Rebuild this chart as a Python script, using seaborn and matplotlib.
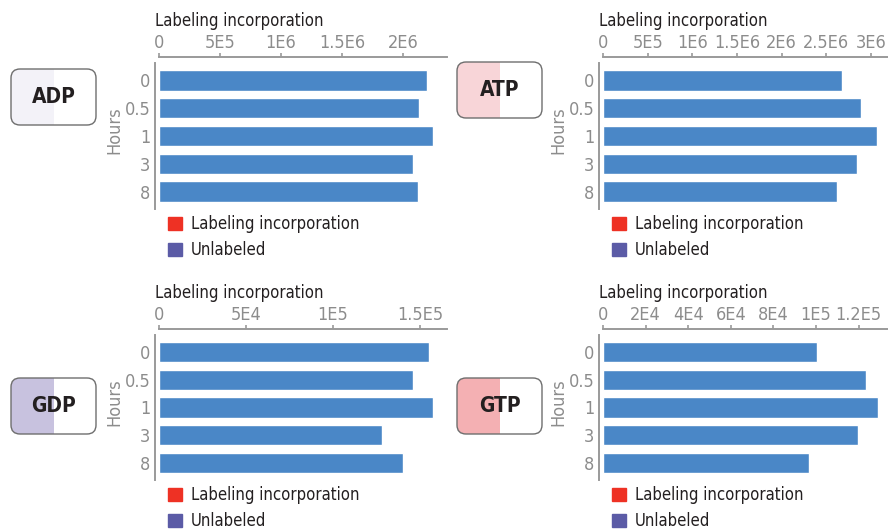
import matplotlib
matplotlib.use("Agg")
import matplotlib.pyplot as plt
import seaborn as sns
from matplotlib import font_manager
from matplotlib.patches import FancyBboxPatch, Rectangle, Patch

# data
hours = ['0', '0.5', '1', '3', '8']
adp = [2.20e6, 2.13e6, 2.245e6, 2.08e6, 2.12e6]
atp = [2.676e6, 2.89e6, 3.07e6, 2.845e6, 2.62e6]
gdp = [1.55e5, 1.46e5, 1.575e5, 1.282e5, 1.402e5]
gtp = [1.005e5, 1.235e5, 1.291e5, 1.197e5, 0.967e5]

adp_ticks = [0, 5e5, 1e6, 1.5e6, 2e6]
adp_labels = ['0', '5E5', '1E6', '1.5E6', '2E6']
atp_ticks = [0, 5e5, 1e6, 1.5e6, 2e6, 2.5e6, 3e6]
atp_labels = ['0', '5E5', '1E6', '1.5E6', '2E6', '2.5E6', '3E6']
gdp_ticks = [0, 5e4, 1e5, 1.5e5]
gdp_labels = ['0', '5E4', '1E5', '1.5E5']
gtp_ticks = [0, 2e4, 4e4, 6e4, 8e4, 1e5, 1.2e5]
gtp_labels = ['0', '2E4', '4E4', '6E4', '8E4', '1E5', '1.2E5']

legend_labels = ['Labeling incorporation', 'Unlabeled']

BAR = '#4a87c7'
RED = '#ee3124'
PURPLE = '#5b5ba6'
GREY = '#8c8c8c'
DARK = '#231f20'

W, H = 888, 529
PT = 72 / 100  # points per pixel at dpi 100

sns.set_theme(style='white')
names = {f.name for f in font_manager.fontManager.ttflist}
narrow = 'Liberation Sans Narrow' if 'Liberation Sans Narrow' in names else 'DejaVu Sans'
plt.rcParams['font.family'] = [narrow, 'DejaVu Sans']
plt.rcParams['font.stretch'] = 'condensed'

fig = plt.figure(figsize=(W / 100, H / 100), dpi=100)


def panel(left, top, width, height, values, xmax, ticks, labels):
    ax = fig.add_axes([left / W, 1 - (top + height) / H, width / W, height / H])
    sns.barplot(x=values, y=hours, orient='h', color=BAR, saturation=1,
                width=0.74, ax=ax)
    ax.set_xlim(0, xmax)
    ax.set_ylim(4.62, -0.62)
    ax.xaxis.tick_top()
    ax.set_xticks(ticks)
    ax.set_xticklabels(labels)
    for side in ['bottom', 'right']:
        ax.spines[side].set_visible(False)
    ax.spines['top'].set_position(('outward', 6 * PT))
    ax.spines['left'].set_position(('outward', 4 * PT))
    for side in ['top', 'left']:
        ax.spines[side].set_color('#9a9a9a')
        ax.spines[side].set_linewidth(1.4)
    ax.tick_params(axis='both', direction='out', length=4 * PT, width=1.2,
                   color='#9a9a9a', labelcolor=GREY, labelsize=13, pad=0.5)
    ax.xaxis.set_label_position('top')
    ax.set_xlabel('Labeling incorporation', fontsize=12, color=DARK, loc='left')
    ax.xaxis.set_label_coords(-4 / width, 1 + 42 / height)
    ax.xaxis.label.set_va('center')
    ax.set_ylabel('Hours', fontsize=13, color=GREY)
    ax.yaxis.set_label_coords(-45 / width, 0.54)
    ax.yaxis.label.set_va('center')
    handles = [Patch(color=RED), Patch(color=PURPLE)]
    leg = ax.legend(handles, legend_labels, loc='upper left',
                    bbox_to_anchor=(9 / width, -6 / height), frameon=False,
                    fontsize=12, handlelength=0.85, handleheight=0.85,
                    handletextpad=0.5, labelspacing=0.5, borderpad=0,
                    borderaxespad=0)
    for t in leg.get_texts():
        t.set_color(DARK)
    return ax


panel(159, 63, 288, 146, adp, 2.36e6, adp_ticks, adp_labels)
panel(603, 63, 285, 146, atp, 3.19e6, atp_ticks, atp_labels)
panel(159, 335, 288, 145, gdp, 1.655e5, gdp_ticks, gdp_labels)
panel(603, 335, 285, 145, gtp, 1.338e5, gtp_ticks, gtp_labels)

# name boxes, drawn in pixel units on an overlay
over = fig.add_axes([0, 0, 1, 1])
over.set_xlim(0, W)
over.set_ylim(H, 0)
over.axis('off')

boxes = [('ADP', 11, 69, '#f3f2f8'), ('ATP', 457, 62, '#f8d5d8'),
         ('GDP', 11, 378, '#c8c2df'), ('GTP', 457, 378, '#f4b0b3')]
bw, bh = 85, 56
for name, x0, y0, fill in boxes:
    shape = FancyBboxPatch((x0, y0), bw, bh, boxstyle='round,pad=0,rounding_size=9',
                           facecolor='white', edgecolor='none')
    over.add_patch(shape)
    half = Rectangle((x0, y0), bw / 2, bh, facecolor=fill, edgecolor='none')
    over.add_patch(half)
    half.set_clip_path(shape)
    over.add_patch(FancyBboxPatch((x0, y0), bw, bh, boxstyle='round,pad=0,rounding_size=9',
                                  facecolor='none', edgecolor='#6e6e6e', linewidth=1))
    over.text(x0 + bw / 2, y0 + bh / 2, name, ha='center', va='center',
              fontsize=15, fontweight='bold', color=DARK)

fig.savefig('out.png', dpi=100)
